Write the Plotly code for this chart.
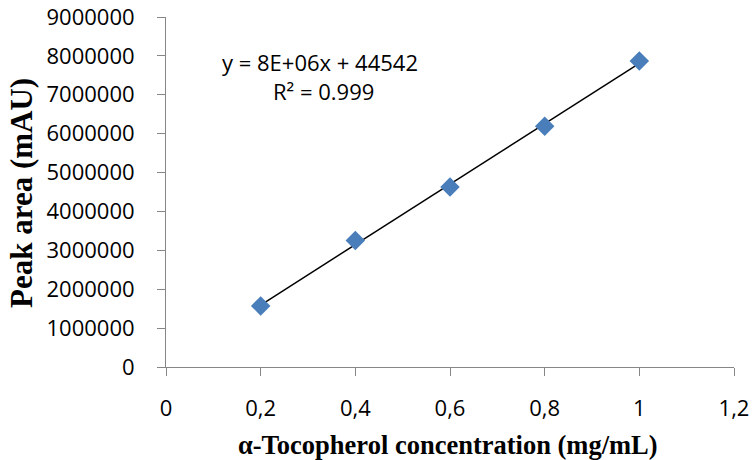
import numpy as np
import plotly.graph_objects as go

# Calibration data: alpha-tocopherol concentration vs HPLC peak area
concentration = [0.2, 0.4, 0.6, 0.8, 1.0]          # mg/mL
peak_area = [1570000, 3250000, 4630000, 6190000, 7870000]  # mAU

x_ticks = [0, 0.2, 0.4, 0.6, 0.8, 1.0, 1.2]
x_tick_text = ["0", "0,2", "0,4", "0,6", "0,8", "1", "1,2"]
y_ticks = [0, 1000000, 2000000, 3000000, 4000000, 5000000,
           6000000, 7000000, 8000000, 9000000]
y_tick_text = [str(v) for v in y_ticks]

equation_text = "y = 8E+06x + 44542"
r2_text = "R² = 0.999"

# Linear least-squares trendline over the measured range
slope, intercept = np.polyfit(concentration, peak_area, 1)
fit_x = [min(concentration), max(concentration)]
fit_y = [slope * v + intercept for v in fit_x]

tick_font = dict(family="Open Sans, Calibri, sans-serif", size=22, color="#000000")
title_font = dict(family="Liberation Serif, Times New Roman, serif", size=26.5, color="#000000")
axis_grey = "#868686"

fig = go.Figure()
fig.add_trace(go.Scatter(
    x=fit_x, y=fit_y, mode="lines",
    line=dict(color="#000000", width=1.5),
    showlegend=False, hoverinfo="skip",
))
fig.add_trace(go.Scatter(
    x=concentration, y=peak_area, mode="markers",
    marker=dict(symbol="diamond", size=15, color="#4A7EBB",
                line=dict(width=0)),
    showlegend=False,
))

fig.update_layout(
    width=752, height=460,
    margin=dict(l=166, r=18, t=17, b=93),
    paper_bgcolor="#ffffff", plot_bgcolor="#ffffff",
    xaxis=dict(
        range=[0, 1.2], tickvals=x_ticks, ticktext=x_tick_text,
        showgrid=False, zeroline=False, automargin=False,
        showline=True, linecolor=axis_grey, linewidth=1,
        ticks="outside", ticklen=8, tickcolor=axis_grey, tickwidth=1,
        tickfont=tick_font, ticklabelstandoff=14,
    ),
    yaxis=dict(
        range=[0, 9000000], tickvals=y_ticks, ticktext=y_tick_text,
        showgrid=False, zeroline=False, automargin=False,
        showline=True, linecolor=axis_grey, linewidth=1,
        ticks="outside", ticklen=8, tickcolor=axis_grey, tickwidth=1,
        tickfont=tick_font, ticklabelstandoff=18,
    ),
    annotations=[
        dict(text="<b>α-Tocopherol concentration (mg/mL)</b>",
             xref="paper", yref="paper", x=(448 - 166) / 568, y=(367 - 445) / 350,
             xanchor="center", yanchor="middle", showarrow=False, font=title_font),
        dict(text="<b>Peak area (mAU)</b>",
             xref="paper", yref="paper", x=(21 - 166) / 568, y=(367 - 193) / 350,
             xanchor="center", yanchor="middle", textangle=-90, showarrow=False,
             font=dict(title_font, size=31)),
        dict(text=equation_text, xref="paper", yref="paper",
             x=(320 - 166) / 568, y=(367 - 62) / 350,
             xanchor="center", yanchor="middle", showarrow=False, font=tick_font),
        dict(text=r2_text, xref="paper", yref="paper",
             x=(323 - 166) / 568, y=(367 - 91) / 350,
             xanchor="center", yanchor="middle", showarrow=False, font=tick_font),
    ],
)

fig.write_html("out.html")
